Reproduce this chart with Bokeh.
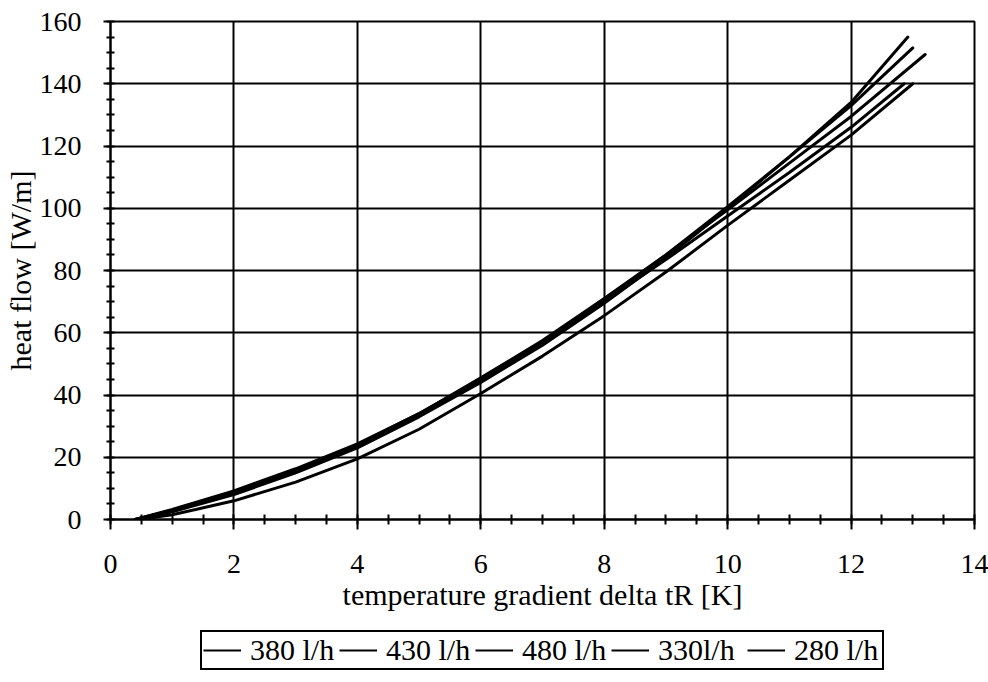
from bokeh.plotting import figure
from bokeh.models import FixedTicker, Legend, LegendItem
from bokeh.layouts import column
from bokeh.embed import file_html
from bokeh.resources import INLINE

# ---- data ----
labels = ["380 l/h", "430 l/h", "480 l/h", "330l/h", "280 l/h"]

x_380 = [0.40, 1, 2, 3, 4, 5, 6, 7, 8, 9, 10, 11, 12, 12.92]
y_380 = [0.0, 2.5, 8.0, 15.0, 23.0, 33.0, 44.0, 56.0, 69.5, 84.0, 100.0, 116.5, 134.0, 155.0]

x_430 = [0.40, 1, 2, 3, 4, 5, 6, 7, 8, 9, 10, 11, 12, 13.0]
y_430 = [0.0, 2.8, 8.6, 15.5, 23.5, 33.5, 44.5, 57.0, 70.5, 85.0, 100.5, 116.5, 133.0, 151.5]

x_480 = [0.40, 1, 2, 3, 4, 5, 6, 7, 8, 9, 10, 11, 12, 13.2]
y_480 = [0.0, 3.0, 9.0, 16.0, 24.0, 34.0, 45.5, 57.5, 71.0, 85.0, 99.5, 114.5, 129.5, 149.4]

x_330 = [0.40, 1, 2, 3, 4, 5, 6, 7, 8, 9, 10, 11, 12, 12.86]
y_330 = [0.0, 3.2, 9.2, 16.3, 24.3, 34.0, 45.0, 57.0, 70.0, 83.5, 97.5, 111.5, 126.0, 140.0]

x_280 = [0.45, 1, 2, 3, 4, 5, 6, 7, 8, 9, 10, 11, 12, 13.0]
y_280 = [0.0, 1.5, 6.0, 12.0, 19.5, 29.0, 40.5, 52.5, 65.5, 79.5, 94.5, 109.0, 123.5, 140.0]

x_ticks = [0, 2, 4, 6, 8, 10, 12, 14]
y_ticks = [0, 20, 40, 60, 80, 100, 120, 140, 160]
x_minor = [i * 0.5 for i in range(29)]
y_minor = [i * 5 for i in range(33)]

series = [(labels[0], x_380, y_380), (labels[1], x_430, y_430),
          (labels[2], x_480, y_480), (labels[3], x_330, y_330),
          (labels[4], x_280, y_280)]

FONT = "Liberation Serif"

p = figure(width=988, height=629, x_range=(0, 14), y_range=(0, 160),
           output_backend="svg", toolbar_location=None,
           min_border_left=107, min_border_right=14, min_border_top=21,
           min_border_bottom=110)
p.background_fill_color = "white"
p.border_fill_color = "white"
p.outline_line_color = "black"
p.outline_line_width = 2

p.xaxis.ticker = FixedTicker(ticks=x_ticks, minor_ticks=x_minor)
p.yaxis.ticker = FixedTicker(ticks=y_ticks, minor_ticks=y_minor)

for ax in (p.xaxis, p.yaxis):
    ax.axis_line_color = "black"
    ax.axis_line_width = 2
    ax.major_tick_line_color = "black"
    ax.major_tick_line_width = 2
    ax.minor_tick_line_color = "black"
    ax.minor_tick_line_width = 2
    ax.major_tick_in = 0
    ax.major_label_text_font = FONT
    ax.major_label_text_font_size = "28px"
    ax.major_label_text_color = "black"
    ax.axis_label_text_font = FONT
    ax.axis_label_text_font_size = "30px"
    ax.axis_label_text_font_style = "normal"
    ax.axis_label_text_color = "black"

p.xaxis.major_tick_out = 10
p.xaxis.minor_tick_in = 5
p.xaxis.minor_tick_out = 5
p.yaxis.major_tick_out = 7
p.yaxis.minor_tick_in = 4
p.yaxis.minor_tick_out = 4

p.xaxis.axis_label = "temperature gradient delta tR [K]"
p.yaxis.axis_label = "heat flow [W/m]"
p.xaxis.major_label_standoff = 25
p.xaxis.axis_label_standoff = 2
p.yaxis.major_label_standoff = 22
p.yaxis.axis_label_standoff = 0

p.grid.grid_line_color = "black"
p.grid.grid_line_width = 2
p.grid.grid_line_alpha = 1.0

for name, xs, ys in series:
    p.line(xs, ys, line_color="black", line_width=3, line_cap="round")

# legend strip underneath the chart (its own lines are kept out of view)
lg = figure(width=988, height=53, x_range=(0, 14), y_range=(1000, 1001),
            output_backend="svg", toolbar_location=None,
            x_axis_type=None, y_axis_type=None,
            min_border_left=0, min_border_right=0, min_border_top=0,
            min_border_bottom=0)
lg.outline_line_color = None
lg.grid.visible = False
lg.background_fill_color = "white"
lg.border_fill_color = "white"

items = []
for name, xs, ys in series:
    r = lg.line(xs, ys, line_color="black", line_width=2)
    items.append(LegendItem(label=name, renderers=[r]))

legend = Legend(items=items, orientation="horizontal", location="top",
                border_line_color="black", border_line_width=2,
                border_line_alpha=1.0,
                padding=1, spacing=2, glyph_width=38, glyph_height=30,
                label_standoff=9, label_width=87, label_height=30, margin=1,
                label_text_font=FONT, label_text_font_size="30px",
                label_text_color="black", background_fill_color="white",
                background_fill_alpha=1.0)
lg.add_layout(legend, "center")

layout = column(p, lg, spacing=0)
open("out.html", "w").write(file_html(layout, INLINE))
